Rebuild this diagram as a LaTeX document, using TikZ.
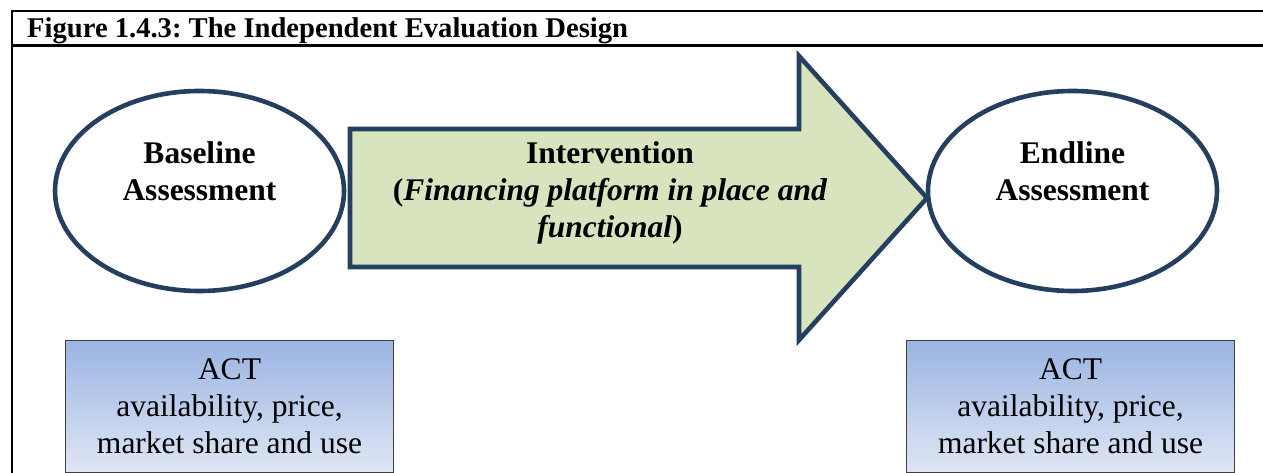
\documentclass[tikz,border=0pt]{standalone}
\usepackage{fontspec}
\setmainfont{Liberation Serif}
\usetikzlibrary{calc,shapes.geometric}

\definecolor{navyline}{HTML}{243F60}
\definecolor{armgreen}{HTML}{D7E4BD}
\definecolor{boxtop}{HTML}{9AB4E2}
\definecolor{boxbottom}{HTML}{DFE6F4}

\frenchspacing
\begin{document}
\begin{tikzpicture}[x = 1pt, y = -1pt,
    frameline/.style = {line width = 2.4pt, black},
    stage/.style = {draw = navyline, line width = 4.6pt, ellipse, minimum width = 289pt, minimum height = 200pt},
    stagetext/.style = {align = center, font = \fontsize{31.5}{37}\selectfont\bfseries},
    measure/.style = {draw = black!75, line width = 1pt, rectangle, minimum width = 328pt, minimum height = 132pt, top color = boxtop, bottom color = boxbottom, align = center, font = \fontsize{31.5}{37}\selectfont}]
      \useasboundingbox (0, 0) rectangle (1263, 473);

      % frame of the figure
      \draw [frameline] (12, 473) -- (12, 11) -- (1263, 11);
      \draw [frameline] (12, 45.5) -- (1263, 45.5);
      \node (title) [anchor = base west, inner sep = 0pt, font = \fontsize{28.6}{32}\selectfont\bfseries] at (27, 38) {Figure 1.4.3: The Independent Evaluation Design};

      % the two assessments
      \node (baseline) [stage] at (199.5, 191) {};
      \node (endline) [stage] at (1072.5, 191) {};
      \node (baseline_text) [stagetext] at (199.5, 171) {Baseline\\Assessment};
      \node (endline_text) [stagetext] at (1072.5, 171) {Endline\\Assessment};

      % the intervention arrow
      \coordinate (arrow_tail) at (350, 198);
      \coordinate (arrow_tip) at (927, 198);
      \draw [draw = navyline, fill = armgreen, line width = 4.6pt, line join = miter]
        (arrow_tail |- 0, 129) -- (799, 129) -- (799, 56) -- (arrow_tip)
        -- (799, 340) -- (799, 267) -- (arrow_tail |- 0, 267) -- cycle;
      \node (intervention) [stagetext] at (610, 193) {Intervention\\(\textit{Financing platform in place and}\\\textit{functional})};

      % what is measured
      \node (baseline_measure) [measure] at (229.5, 406) {ACT\\availability, price,\\market share and use};
      \node (endline_measure) [measure] at (1070.5, 406) {ACT\\availability, price,\\market share and use};
    \end{tikzpicture}
\end{document}
